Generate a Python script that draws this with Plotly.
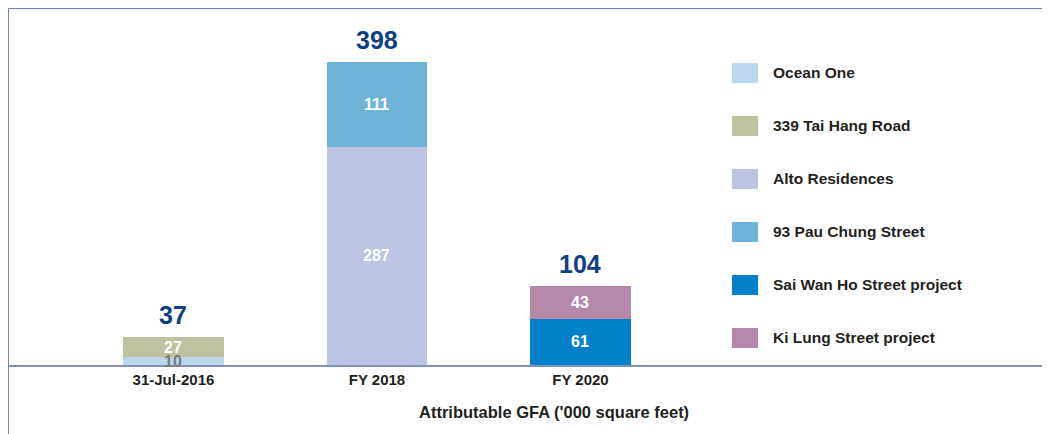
import plotly.graph_objects as go

categories = ["31-Jul-2016", "FY 2018", "FY 2020"]
series_names = ["Ocean One", "339 Tai Hang Road", "Alto Residences",
                "93 Pau Chung Street", "Sai Wan Ho Street project", "Ki Lung Street project"]
ocean_one = [10, None, None]
tai_hang = [27, None, None]
alto = [None, 287, None]
pau_chung = [None, 111, None]
sai_wan_ho = [None, None, 61]
ki_lung = [None, None, 43]
totals = [37, 398, 104]
axis_title = "Attributable GFA ('000 square feet)"

series_values = [ocean_one, tai_hang, alto, pau_chung, sai_wan_ho, ki_lung]
colors = ["#bcd6ee", "#c0c19f", "#bcc3e3", "#6db4d6", "#0080c8", "#b587a8"]
text_colors = ["#7a7a7a", "white", "white", "white", "white", "white"]

FONT = "Liberation Sans Narrow, Arial Narrow, Liberation Sans, Arial, sans-serif"
OFF = 8  # page offset of the figure (body margin)
W, H = 1050 - OFF, 434 - OFF
BASE = 365 - OFF
L, R, T, B = 0, 0, 0, H - BASE
PW, PH = W - L - R, H - T - B

def px_x(px):
    return (px - OFF - L) / PW

def px_y(py):
    return (BASE - (py - OFF)) / PH

fig = go.Figure()
for name, vals, col in zip(series_names, series_values, colors):
    fig.add_trace(go.Bar(
        x=categories, y=vals, name=name, marker=dict(color=col, line=dict(width=0)),
        width=0.496, showlegend=False, hoverinfo="x+y+name",
    ))

# value labels inside segments (drawn on top so overlapping labels stay visible)
base = [0, 0, 0]
for vals, tcol in zip(series_values, text_colors):
    for j, (c, v) in enumerate(zip(categories, vals)):
        if v is None:
            continue
        fig.add_annotation(x=c, y=base[j] + v / 2, text=f"<b>{v}</b>", showarrow=False,
                           yanchor="middle", font=dict(family=FONT, size=16, color=tcol))
        base[j] += v

for c, t in zip(categories, totals):
    fig.add_annotation(x=c, y=t, text=f"<b>{t}</b>", showarrow=False, yanchor="bottom",
                       yshift=6, font=dict(family=FONT, size=25, color="#0d3f85"))

# manual legend
for i, (name, col) in enumerate(zip(series_names, colors)):
    top = 63 + 53 * i
    fig.add_shape(type="rect", xref="paper", yref="paper",
                  x0=px_x(732), x1=px_x(758), y0=px_y(top + 20), y1=px_y(top),
                  fillcolor=col, line=dict(width=0))
    fig.add_annotation(xref="paper", yref="paper", x=px_x(771), y=px_y(top + 9.5),
                       text=f"<b>{name}</b>", showarrow=False, xanchor="left", yanchor="middle",
                       font=dict(family=FONT, size=15.5, color="#231f20"))

fig.add_annotation(xref="paper", yref="paper", x=px_x(554), y=px_y(412),
                   text=f"<b>{axis_title}</b>", showarrow=False, xanchor="center", yanchor="middle",
                   font=dict(family=FONT, size=16.5, color="#231f20"))

# frame lines
fig.add_shape(type="line", xref="paper", yref="paper", x0=px_x(8), x1=px_x(1050),
              y0=px_y(8), y1=px_y(8), line=dict(color="#6f80b8", width=2))
fig.add_shape(type="line", xref="paper", yref="paper", x0=px_x(8), x1=px_x(8),
              y0=px_y(8), y1=px_y(434), line=dict(color="#6f80b8", width=2))

fig.update_layout(
    barmode="stack", width=W, height=H,
    margin=dict(l=L, r=R, t=T, b=B),
    paper_bgcolor="white", plot_bgcolor="white",
    xaxis=dict(range=[-0.813, 4.307], showline=True, linecolor="#8090b8", linewidth=2,
               ticks="", showgrid=False, zeroline=False,
               tickfont=dict(family=FONT, size=15, color="#231f20"),
               tickvals=categories, ticktext=[f"<b>{c}</b>" for c in categories]),
    yaxis=dict(range=[0, 469], visible=False, showgrid=False, zeroline=False),
)

fig.write_html("out.html")
